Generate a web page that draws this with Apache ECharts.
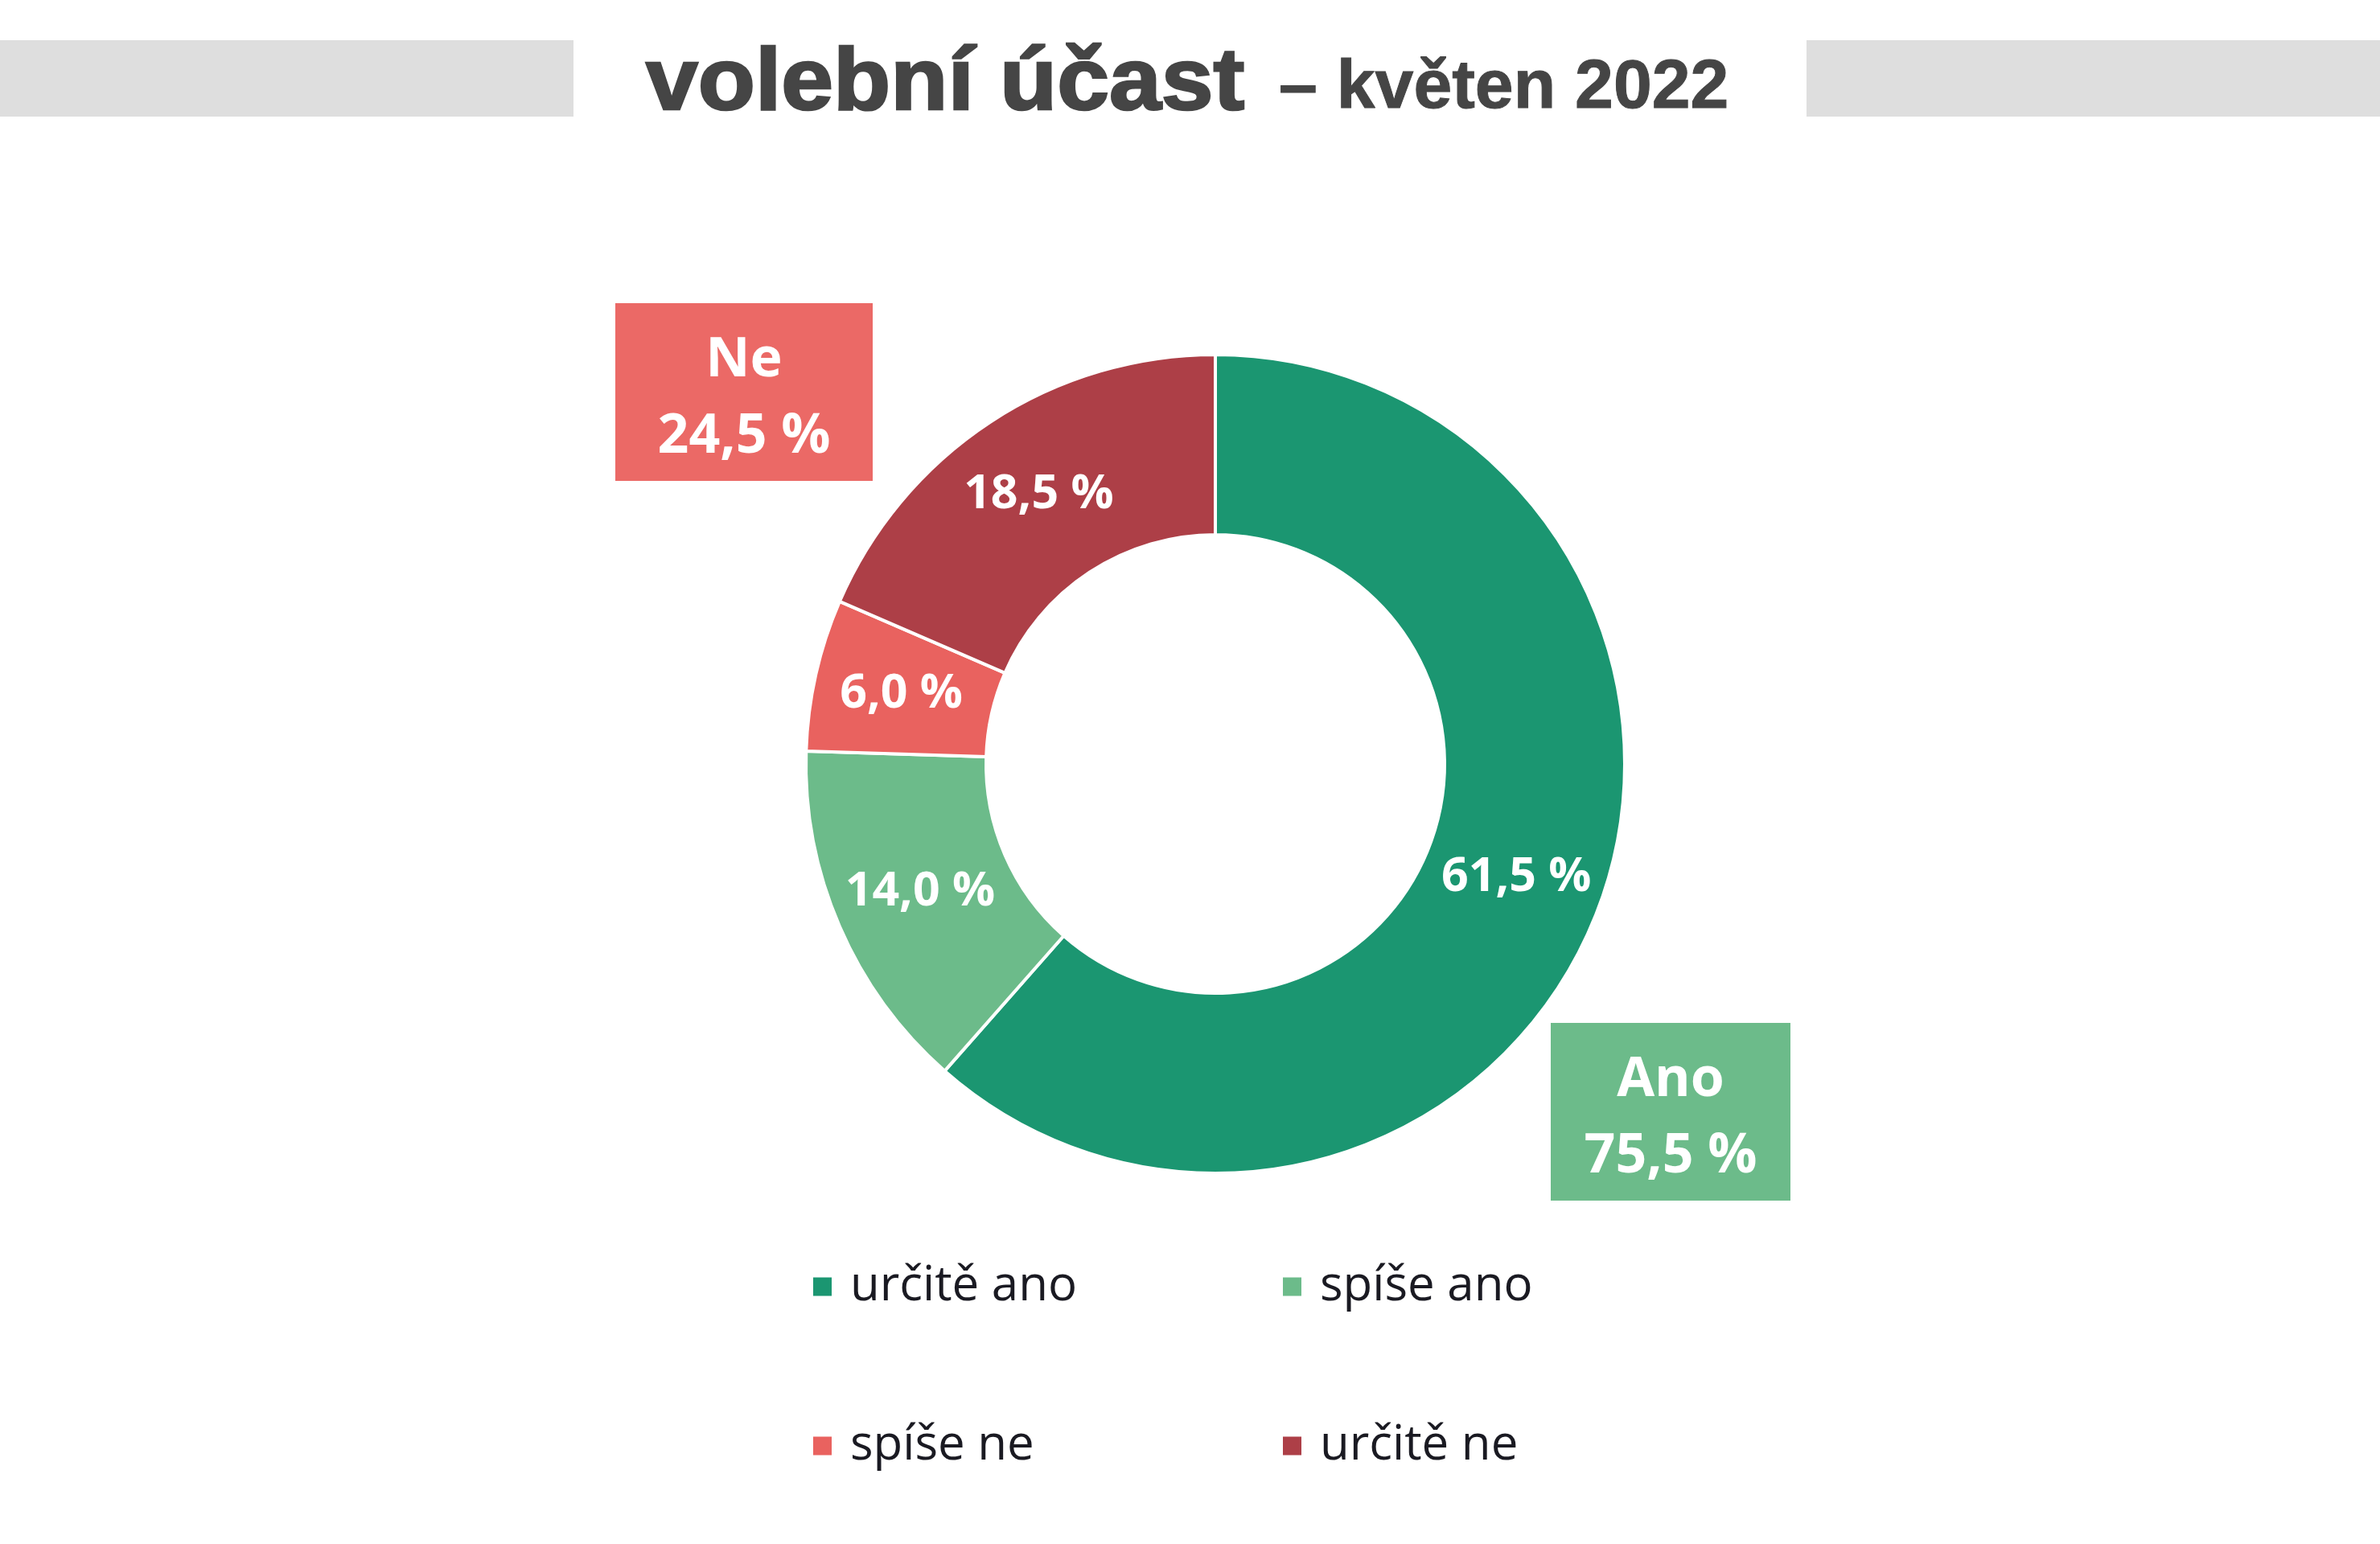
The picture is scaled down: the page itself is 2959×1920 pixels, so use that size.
<!DOCTYPE html>
<html lang="cs">

<head>
  <meta charset="UTF-8">
  <title>volební účast – květen 2022</title>
  <script src="https://cdn.jsdelivr.net/npm/echarts@6/dist/echarts.min.js"></script>
  <style>
    html, body { margin: 0; padding: 0; background: #fff; }
    #main { width: 2959px; height: 1920px; }
  </style>
</head>

<body>
  <div id="main"></div>
</body>
<script>
  // data
  const categories = ['určitě ano', 'spíše ano', 'spíše ne', 'určitě ne']
  const values = [61.5, 14.0, 6.0, 18.5]
  const groupNames = ['Ano', 'Ne']
  const groupMembers = [[0, 1], [2, 3]]

  const colors = ['#1b9671', '#6cbb8a', '#e9625f', '#ad3f47']
  const boxColors = ['#6cbb8a', '#eb6966']

  function fmt(v) {
    return v.toFixed(1).replace('.', ',') + ' %'
  }

  function groupSum(i) {
    return groupMembers[i].reduce((s, k) => s + values[k], 0)
  }

  initChart()

  function initChart() {
    let myChart = echarts.init(document.getElementById('main'))

    // legend 2x2, one legend per item
    let legendPos = [[1004, 1564], [1588, 1564], [1004, 1762], [1588, 1762]]
    let legends = categories.map((c, i) => ({
      data: [c],
      left: legendPos[i][0],
      top: legendPos[i][1],
      icon: 'rect',
      itemWidth: 25,
      itemHeight: 25,
      selectedMode: false,
      textStyle: {
        fontFamily: 'Open Sans',
        fontSize: 60,
        lineHeight: 62,
        color: '#1a1a22',
        padding: [0, 0, 0, 17]
      }
    }))

    // summary boxes
    let boxPos = [[1928, 1272], [765, 377]]
    let boxes = groupNames.map((g, i) => ({
      type: 'group',
      left: boxPos[i][0],
      top: boxPos[i][1],
      children: [{
        type: 'rect',
        shape: { x: 0, y: 0, width: i === 0 ? 298 : 320, height: 221 },
        style: { fill: boxColors[i] }
      }, {
        type: 'text',
        x: i === 0 ? 149 : 160,
        y: 119,
        style: {
          text: g + '\n' + fmt(groupSum(i)),
          font: 'bold 68px "Open Sans"',
          lineHeight: 95,
          fill: '#fff',
          align: 'center',
          verticalAlign: 'middle'
        }
      }]
    }))

    let option = {
      backgroundColor: '#fff',
      color: colors,
      legend: legends,
      graphic: [{
        type: 'rect',
        shape: { x: 0, y: 50, width: 713, height: 95 },
        style: { fill: '#dedede' }
      }, {
        type: 'rect',
        shape: { x: 2246, y: 50, width: 713, height: 95 },
        style: { fill: '#dedede' }
      }, {
        type: 'text',
        x: 803,
        y: 106,
        scaleX: 1.12,
        scaleY: 1.06,
        style: {
          text: 'volební účast',
          font: 'bold 104px "Liberation Sans"',
          fill: '#454545',
          stroke: '#454545',
          lineWidth: 2.5,
          align: 'left',
          verticalAlign: 'middle'
        }
      }, {
        type: 'text',
        x: 1590,
        y: 110,
        style: {
          text: '– květen 2022',
          font: 'bold 86px "Liberation Sans"',
          fill: '#454545',
          stroke: '#454545',
          lineWidth: 1,
          align: 'left',
          verticalAlign: 'middle'
        }
      }].concat(boxes),
      series: [{
        type: 'pie',
        center: [1511, 950],
        radius: [285, 509],
        startAngle: 90,
        clockwise: true,
        avoidLabelOverlap: false,
        itemStyle: {
          borderColor: '#fff',
          borderWidth: 4
        },
        label: {
          show: true,
          position: 'inside',
          formatter: p => fmt(p.value),
          color: '#fff',
          fontFamily: 'Open Sans',
          fontWeight: 'bold',
          fontSize: 59,
          padding: [14, 0, 0, 0]
        },
        labelLine: { show: false },
        emphasis: { disabled: true },
        data: categories.map((c, i) => ({ name: c, value: values[i] }))
      }]
    }
    myChart.setOption(option)
  }
</script>

</html>
